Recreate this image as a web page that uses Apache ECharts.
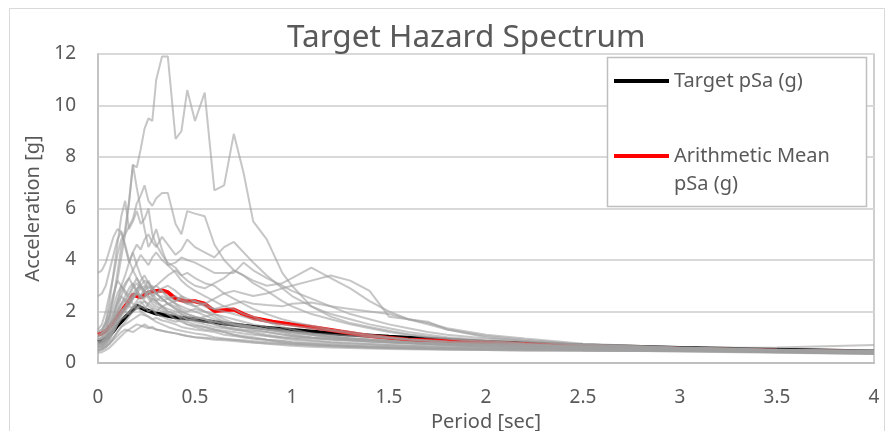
<!DOCTYPE html>
<html>
<head>
<meta charset="utf-8">
<script src="https://cdn.jsdelivr.net/npm/echarts@6/dist/echarts.min.js"></script>
<style>
html,body{margin:0;padding:0;background:#fff;}
#chart{width:886px;height:431px;}
</style>
</head>
<body>
<div id="chart"></div>
<script>
// ---- data ----
const periods = [0,0.02,0.04,0.06,0.08,0.1,0.12,0.14,0.16,0.18,0.2,0.22,0.24,0.26,0.28,0.3,0.33,0.36,0.4,0.43,0.46,0.5,0.55,0.6,0.65,0.7,0.75,0.8,0.87,0.95,1.0,1.1,1.2,1.3,1.4,1.5,1.6,1.7,1.8,2.0,2.2,2.5,3.0,3.5,4.0];

const targetPeriods = [0,0.02,0.05,0.08,0.1,0.15,0.2,0.25,0.3,0.4,0.5,0.6,0.75,0.8,1.0,1.25,1.5,2.0,2.5,3.0,4.0];
const targetValues  = [0.82,0.85,1.0,1.25,1.45,1.85,2.22,2.05,1.92,1.78,1.7,1.58,1.45,1.41,1.28,1.13,1.02,0.82,0.68,0.58,0.45];

const meanPeriods = [0,0.02,0.05,0.08,0.1,0.12,0.15,0.18,0.2,0.22,0.25,0.28,0.3,0.33,0.36,0.4,0.45,0.5,0.55,0.6,0.65,0.7,0.75,0.8,0.9,1.0,1.1,1.25,1.4,1.6,1.8,2.0,2.5,3.0,3.5,4.0];
const meanValues  = [1.1,1.15,1.3,1.6,1.8,2.0,2.3,2.65,2.6,2.55,2.7,2.78,2.8,2.82,2.75,2.5,2.4,2.4,2.3,2.02,2.05,2.08,1.9,1.75,1.6,1.5,1.4,1.22,1.05,0.9,0.85,0.8,0.65,0.55,0.48,0.42];

const rec01 = [1.2,1.3,1.5,1.9,2.6,3.2,4.1,5.0,6.2,7.7,7.6,8.3,9.1,9.5,9.4,11.0,11.9,11.9,8.7,9.0,10.6,9.4,10.5,6.7,6.9,8.9,7.4,5.5,4.8,3.5,3.0,2.2,1.8,1.55,1.4,1.25,1.12,1.03,0.95,0.8,0.72,0.6,0.5,0.42,0.35];
const rec02 = [0.9,1.0,1.3,1.8,2.5,3.5,4.5,5.2,6.3,7.7,6.8,6.0,5.2,4.5,4.8,5.2,4.4,3.8,3.5,3.2,3.0,2.8,2.6,2.4,2.2,2.1,1.9,1.8,1.6,1.4,1.3,1.15,1.05,0.95,0.9,0.85,0.8,0.75,0.7,0.62,0.55,0.5,0.45,0.4,0.35];
const rec03 = [1.3,1.5,2.0,2.7,3.4,4.2,4.8,5.0,5.3,5.6,6.2,6.5,6.9,6.3,6.1,6.4,6.6,6.6,5.4,5.0,5.9,5.8,5.7,4.6,4.0,3.6,3.4,3.1,2.8,2.4,2.2,1.9,1.7,1.5,1.35,1.2,1.1,1.0,0.95,0.85,0.75,0.62,0.52,0.45,0.4];
const rec04 = [1.0,1.2,1.6,2.4,3.5,4.6,5.7,6.3,5.2,5.5,5.9,5.4,5.6,6.0,5.0,4.6,4.2,3.9,3.7,3.4,3.5,3.3,3.1,3.0,2.7,2.5,2.3,2.1,1.9,1.7,1.6,1.45,1.3,1.2,1.1,1.0,0.92,0.85,0.8,0.7,0.62,0.55,0.48,0.42,0.38];
const rec05 = [0.8,0.9,1.1,1.4,1.8,2.4,3.0,3.4,3.9,4.3,4.6,4.4,4.8,5.0,4.7,4.5,4.9,4.6,4.2,4.4,4.8,4.5,4.3,4.1,4.5,4.7,4.3,3.9,3.4,2.9,2.6,2.2,1.9,1.7,1.5,1.35,1.2,1.1,1.0,0.88,0.78,0.65,0.55,0.48,0.42];
const rec06 = [0.7,0.8,1.0,1.3,1.7,2.1,2.6,3.0,3.3,3.6,3.9,4.2,4.0,3.8,4.1,4.3,4.0,3.8,3.9,4.1,4.0,3.9,3.7,3.5,3.5,3.5,3.9,3.6,3.3,3.0,2.8,2.5,2.2,1.9,1.7,1.5,1.35,1.2,1.1,0.95,0.85,0.7,0.58,0.5,0.44];
const rec07 = [0.7,0.75,0.9,1.1,1.4,1.7,2.0,2.2,2.4,2.6,2.8,3.0,3.2,3.1,2.9,3.0,3.2,3.4,3.6,3.4,3.2,3.0,2.9,3.1,3.3,3.6,3.4,3.2,3.0,3.1,3.3,3.7,3.3,2.9,2.4,2.0,1.7,1.55,1.35,1.1,0.95,0.75,0.6,0.5,0.45];
const rec08 = [0.6,0.65,0.8,1.0,1.3,1.6,1.9,2.1,2.3,2.5,2.7,2.6,2.8,3.0,2.8,2.7,2.9,3.0,2.8,2.6,2.5,2.4,2.3,2.5,2.7,2.8,2.7,2.6,2.7,2.9,3.0,3.2,3.4,3.2,2.8,1.8,1.7,1.6,1.3,1.0,0.85,0.7,0.58,0.5,0.44];
const rec09 = [3.5,3.6,3.9,4.4,4.9,5.2,5.1,4.6,4.0,3.6,3.3,3.0,2.8,2.6,2.5,2.4,2.2,2.0,1.9,1.7,1.6,1.5,1.4,1.3,1.2,1.1,1.05,1.0,0.9,0.8,0.75,0.7,0.66,0.63,0.6,0.58,0.56,0.54,0.52,0.5,0.49,0.48,0.46,0.42,0.36];
const rec10 = [2.6,2.7,3.0,3.6,4.2,4.8,5.1,4.5,3.9,4.3,3.8,3.4,3.1,2.9,3.0,2.7,2.5,2.3,2.1,2.0,1.9,1.8,1.7,1.5,1.4,1.3,1.25,1.2,1.1,1.0,0.95,0.88,0.82,0.78,0.74,0.7,0.67,0.64,0.62,0.6,0.57,0.54,0.5,0.45,0.4];
const rec11 = [0.6,0.65,0.8,1.0,1.3,1.6,1.9,2.1,2.3,2.5,2.7,2.9,3.0,2.8,2.6,2.7,2.5,2.3,2.2,2.0,1.9,1.8,1.7,1.6,1.5,1.45,1.4,1.3,1.2,1.1,1.05,0.98,0.92,0.88,0.84,0.8,0.76,0.72,0.7,0.66,0.62,0.58,0.54,0.48,0.44];
const rec12 = [0.9,1.0,1.2,1.5,1.9,2.3,2.6,2.4,2.2,2.5,2.8,2.6,2.4,2.3,2.5,2.4,2.2,2.0,1.9,1.8,1.7,1.6,1.5,1.4,1.35,1.3,1.25,1.15,1.05,0.95,0.9,0.85,0.8,0.76,0.73,0.7,0.67,0.65,0.63,0.6,0.58,0.55,0.52,0.47,0.42];
const rec13 = [0.5,0.55,0.7,0.9,1.2,1.5,1.7,1.8,2.0,2.2,2.1,2.3,2.4,2.2,2.1,2.0,2.2,2.3,2.1,1.9,1.8,1.7,1.8,1.9,1.7,1.55,1.5,1.4,1.3,1.2,1.1,1.0,0.95,0.9,0.85,0.82,0.78,0.75,0.72,0.68,0.64,0.6,0.55,0.5,0.46];
const rec14 = [1.0,1.1,1.4,1.8,2.2,2.7,3.0,2.8,2.6,2.9,3.1,2.9,2.7,2.5,2.3,2.2,2.1,1.9,1.7,1.6,1.5,1.4,1.3,1.25,1.2,1.1,1.0,0.95,0.9,0.85,0.8,0.75,0.7,0.67,0.64,0.62,0.6,0.58,0.57,0.55,0.54,0.52,0.5,0.46,0.42];
const rec15 = [0.7,0.75,0.9,1.1,1.4,1.8,2.1,2.0,1.9,2.2,2.4,2.6,2.5,2.8,2.6,2.4,2.6,2.5,2.3,2.1,2.0,2.1,2.0,1.8,1.6,1.5,1.45,1.4,1.3,1.25,1.2,1.1,1.0,0.95,0.9,0.85,0.8,0.78,0.75,0.7,0.66,0.6,0.55,0.5,0.48];
const rec16 = [0.45,0.5,0.6,0.75,0.95,1.2,1.4,1.5,1.6,1.7,1.8,1.9,1.85,1.8,1.7,1.75,1.65,1.6,1.5,1.4,1.35,1.3,1.25,1.2,1.1,1.05,1.0,0.95,0.9,0.85,0.82,0.78,0.74,0.7,0.67,0.64,0.62,0.6,0.58,0.55,0.53,0.5,0.48,0.44,0.4];
const rec17 = [0.8,0.85,1.0,1.3,1.6,2.0,2.3,2.6,2.9,3.1,2.8,2.6,2.9,3.2,2.9,2.7,2.5,2.3,2.4,2.6,2.4,2.2,2.0,1.9,1.8,1.7,1.6,1.5,1.4,1.3,1.2,1.1,1.0,0.95,0.9,0.86,0.82,0.78,0.75,0.7,0.65,0.6,0.55,0.5,0.45];
const rec18 = [0.5,0.55,0.62,0.75,0.9,1.05,1.2,1.3,1.25,1.2,1.3,1.4,1.5,1.4,1.35,1.3,1.25,1.2,1.15,1.1,1.05,1.0,0.98,0.95,0.92,0.9,0.88,0.85,0.82,0.78,0.75,0.72,0.68,0.65,0.62,0.6,0.58,0.56,0.55,0.53,0.52,0.5,0.48,0.46,0.44];
const rec19 = [1.2,1.3,1.6,2.1,2.7,3.2,3.0,2.7,2.5,2.3,2.2,2.0,1.9,1.8,1.7,1.6,1.5,1.4,1.3,1.25,1.2,1.15,1.1,1.0,0.95,0.9,0.85,0.8,0.75,0.7,0.67,0.63,0.6,0.58,0.56,0.54,0.53,0.52,0.51,0.5,0.49,0.48,0.47,0.44,0.4];
const rec20 = [0.65,0.7,0.85,1.1,1.4,1.7,2.0,2.2,2.5,2.7,2.9,3.0,2.8,2.7,2.9,3.0,2.8,2.6,2.4,2.5,2.3,2.2,2.3,2.1,2.0,1.9,1.8,1.7,1.6,1.5,1.45,1.35,1.25,1.15,1.05,0.98,0.92,0.88,0.84,0.78,0.72,0.65,0.58,0.52,0.48];
const rec21 = [0.4,0.42,0.5,0.6,0.75,0.9,1.05,1.2,1.3,1.4,1.5,1.45,1.4,1.35,1.4,1.3,1.25,1.2,1.15,1.1,1.05,1.0,0.95,0.9,0.88,0.85,0.82,0.8,0.77,0.74,0.72,0.68,0.65,0.62,0.6,0.58,0.56,0.55,0.54,0.52,0.51,0.5,0.48,0.46,0.5];
const rec22 = [0.6,0.62,0.75,0.95,1.2,1.5,1.8,2.0,2.2,2.1,2.3,2.4,2.2,2.0,2.1,1.9,1.8,1.7,1.6,1.65,1.5,1.45,1.4,1.3,1.25,1.2,1.15,1.1,1.05,1.0,0.98,0.95,0.9,0.86,0.82,0.8,0.78,0.76,0.74,0.72,0.68,0.62,0.58,0.6,0.7];
const rec23 = [0.9,0.95,1.1,1.4,1.7,2.0,2.3,2.5,2.4,2.6,2.7,2.5,2.6,2.8,2.7,2.5,2.4,2.5,2.6,2.4,2.3,2.4,2.2,2.1,2.2,2.3,2.4,2.3,2.25,2.2,2.3,2.35,2.2,2.1,2.0,1.9,1.7,1.5,1.3,1.05,0.9,0.72,0.6,0.5,0.45];
const rec24 = [1.1,1.15,1.3,1.6,2.0,2.4,2.8,3.1,3.3,3.0,2.8,3.2,3.4,3.1,2.9,2.7,2.8,2.5,2.3,2.2,2.1,2.0,1.85,1.7,1.6,1.5,1.45,1.4,1.3,1.2,1.15,1.1,1.02,0.95,0.9,0.86,0.82,0.78,0.75,0.7,0.66,0.6,0.55,0.48,0.42];
const rec25 = [0.75,0.8,0.95,1.2,1.5,1.9,2.2,2.4,2.7,3.0,3.3,3.0,2.8,2.6,2.4,2.3,2.2,2.1,2.0,1.9,1.8,1.75,1.7,1.6,1.55,1.5,1.4,1.35,1.3,1.25,1.2,1.15,1.1,1.05,1.0,0.95,0.9,0.86,0.82,0.76,0.7,0.63,0.56,0.5,0.44];
const rec26 = [0.5,0.55,0.65,0.8,1.0,1.2,1.4,1.6,1.8,2.0,2.1,2.2,2.1,2.3,2.2,2.1,2.0,1.9,1.85,1.8,1.7,1.65,1.6,1.5,1.4,1.35,1.3,1.25,1.2,1.12,1.05,0.98,0.92,0.88,0.84,0.8,0.76,0.73,0.7,0.65,0.6,0.56,0.52,0.5,0.48];

const records = [rec01,rec02,rec03,rec04,rec05,rec06,rec07,rec08,rec09,rec10,rec11,rec12,rec13,rec14,rec15,rec16,rec17,rec18,rec19,rec20,rec21,rec22,rec23,rec24,rec25,rec26];

const xTicks = {min: 0, max: 4, interval: 0.5};
const yTicks = {min: 0, max: 12, interval: 2};

const titleText = 'Target Hazard Spectrum';
const targetName = 'Target pSa (g)';
const meanName = 'Arithmetic Mean pSa (g)';
const meanLine1 = 'Arithmetic Mean';
const meanLine2 = 'pSa (g)';

// ---- build ----
const FONT = '"Noto Sans", sans-serif';
const TXT = '#595959';
const pairs = (xs, ys) => xs.map((x, i) => [x, ys[i]]);

const series = [
  {name: targetName, type: 'line', data: pairs(targetPeriods, targetValues), symbol: 'none',
   lineStyle: {color: '#000', width: 4}, itemStyle: {color: '#000'}, z: 2},
  {name: meanName, type: 'line', data: pairs(meanPeriods, meanValues), symbol: 'none',
   lineStyle: {color: '#ff0000', width: 4}, itemStyle: {color: '#ff0000'}, z: 2}
];
records.forEach((r, i) => {
  series.push({name: 'Record ' + (i + 1), type: 'line', data: pairs(periods, r), symbol: 'none',
    lineStyle: {color: '#a0a0a0', width: 2, opacity: 0.6}, z: 3, silent: true});
});

const chart = echarts.init(document.getElementById('chart'), null, {renderer: 'canvas'});
chart.setOption({
  animation: false,
  backgroundColor: '#fff',
  title: {text: titleText, left: 287, top: 22, padding: 0,
    textStyle: {fontFamily: FONT, fontSize: 31.5, fontWeight: 'normal', color: TXT}},
  grid: {left: 98, right: 12, top: 54, bottom: 68, show: true, borderColor: '#bfbfbf', borderWidth: 1.5,
    containLabel: false, outerBoundsMode: 'none'},
  legend: [
    {data: [targetName], orient: 'vertical', left: 614, top: 71, padding: 0, z: 60,
     itemWidth: 55, itemHeight: 4, icon: 'rect', itemGap: 0,
     textStyle: {fontFamily: FONT, fontSize: 20, color: TXT}},
    {data: [meanName], orient: 'vertical', left: 614, top: 146, padding: 0, z: 60,
     itemWidth: 55, itemHeight: 4, icon: 'rect', itemGap: 0,
     formatter: () => meanLine1,
     textStyle: {fontFamily: FONT, fontSize: 20, color: TXT}}
  ],
  xAxis: {type: 'value', min: xTicks.min, max: xTicks.max, interval: xTicks.interval,
    name: 'Period [sec]', nameLocation: 'middle', nameGap: 45,
    nameTextStyle: {fontFamily: FONT, fontSize: 20, color: TXT},
    axisLine: {show: true, lineStyle: {color: '#bfbfbf', width: 2}},
    axisTick: {show: false},
    axisLabel: {fontFamily: FONT, fontSize: 19, color: TXT, margin: 25},
    splitLine: {show: false}},
  yAxis: {type: 'value', min: yTicks.min, max: yTicks.max, interval: yTicks.interval,
    name: 'Acceleration [g]', nameLocation: 'middle', nameGap: 54,
    nameTextStyle: {fontFamily: FONT, fontSize: 20, color: TXT},
    axisLine: {show: true, lineStyle: {color: '#bfbfbf', width: 1.5}},
    axisTick: {show: false},
    axisLabel: {fontFamily: FONT, fontSize: 19, color: TXT, margin: 22},
    splitLine: {show: true, lineStyle: {color: '#d9d9d9', width: 2}}},
  series: series,
  graphic: [
    {type: 'rect', shape: {x: 9.5, y: 8.5, width: 875, height: 440}, style: {fill: 'none', stroke: '#d9d9d9', lineWidth: 1}, silent: true, z: -1},
    {type: 'rect', shape: {x: 607.5, y: 57.5, width: 259, height: 149}, style: {fill: '#fff', stroke: '#bfbfbf', lineWidth: 1.5}, silent: true, z: 5},
    {type: 'text', x: 674, y: 184, z: 60, silent: true,
     style: {text: meanLine2, fontFamily: FONT, fontSize: 20, fill: TXT, verticalAlign: 'middle', align: 'left'}}
  ]
});
</script>
</body>
</html>
